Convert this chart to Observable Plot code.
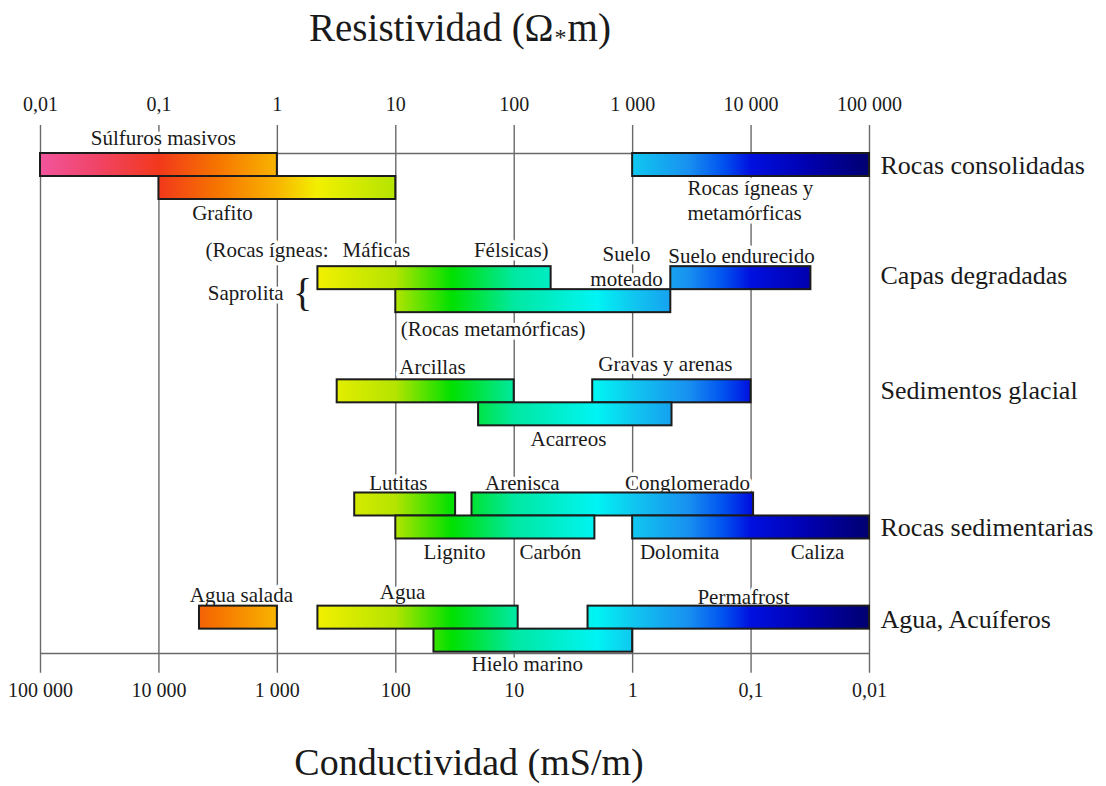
<!DOCTYPE html>
<html><head><meta charset="utf-8">
<script src="https://cdn.jsdelivr.net/npm/d3@7"></script>
<script src="https://cdn.jsdelivr.net/npm/@observablehq/plot@0.6"></script>
<style>
body{margin:0;background:#fff;width:1106px;height:786px;overflow:hidden;font-family:'Liberation Serif','Times New Roman',serif;color:#1a1a1a}
#title{height:66px;line-height:56px;width:920px;text-align:center;font-size:39px;white-space:nowrap}
#title .ast{font-size:24px;position:relative;top:4px;margin:0 1px}
#sub{height:50px;line-height:52px;width:938px;text-align:center;font-size:38px;white-space:nowrap}
#chart svg{display:block}
</style></head><body>
<div id="title">Resistividad (Ω<span class="ast">*</span>m)</div>
<div id="chart"></div>
<div id="sub">Conductividad (mS/m)</div>
<script>
// ---- axis ticks ----
const resistivityTicks = [0.01, 0.1, 1, 10, 100, 1000, 10000, 100000];
const resistivityLabels = ["0,01", "0,1", "1", "10", "100", "1 000", "10 000", "100 000"];
const conductivityLabels = ["100 000", "10 000", "1 000", "100", "10", "1", "0,1", "0,01"];

// ---- groups (right-hand labels) ----
const groupNames = ["Rocas consolidadas", "Capas degradadas", "Sedimentos glacial", "Rocas sedimentarias", "Agua, Acuíferos"];
const groupLabelLane = [0.52, 5.30, 10.30, 16.26, 20.26];

// ---- bars: resistivity ranges (Ω·m) ----
const barNames = ["Súlfuros masivos", "Grafito", "Rocas ígneas y metamórficas",
  "Saprolita (ígneas)", "Saprolita (metamórficas)", "Suelo endurecido",
  "Arcillas", "Gravas y arenas", "Acarreos",
  "Lutitas", "Arenisca–Conglomerado", "Lignito–Carbón", "Dolomita–Caliza",
  "Agua salada", "Agua", "Permafrost", "Hielo marino"];
const barGroup = [0, 0, 0, 1, 1, 1, 2, 2, 2, 3, 3, 3, 3, 4, 4, 4, 4];
const barSub   = [0, 1, 0, 0, 1, 0, 0, 0, 1, 0, 0, 1, 1, 0, 0, 0, 1];
const barLow   = [0.01, 0.1, 1000, 2.2, 10, 2100, 3.2, 460, 50, 4.5, 44, 10, 1000, 0.22, 2.2, 420, 21];
const barHigh  = [1, 10, 100000, 205, 2100, 32000, 100, 10000, 2150, 32, 10500, 480, 100000, 1, 108, 100000, 1000];

// ---- annotations (x in Ω·m, y in lane units) ----
const noteText = ["Súlfuros masivos", "Grafito", "Rocas ígneas y\nmetamórficas",
  "(Rocas ígneas:", "Máficas", "Félsicas)", "Suelo\nmoteado", "Suelo endurecido",
  "Saprolita", "(Rocas metamórficas)",
  "Arcillas", "Gravas y arenas", "Acarreos",
  "Lutitas", "Arenisca", "Conglomerado", "Lignito", "Carbón", "Dolomita", "Caliza",
  "Agua salada", "Agua", "Permafrost", "Hielo marino"];
const noteX = [0.109, 0.344, 2900, 0.247, 3.55, 195, 887, 2000, 1.13, 11,
  20.4, 1890, 287, 10.5, 117, 2905, 31.3, 202, 2490, 36400, 0.497, 11.4, 8630, 129];
const noteLane = [-0.70, 2.52, 1.98, 4.13, 4.13, 4.13, 4.85, 4.39, 6.04, 7.57,
  9.22, 9.09, 12.35, 14.26, 14.26, 14.26, 17.3, 17.3, 17.3, 17.3, 19.13, 19.0, 19.22, 22.17];
const noteAnchor = ["middle", "middle", "start", "start", "start", "end", "middle", "start", "end", "start",
  "middle", "middle", "middle", "middle", "middle", "middle", "middle", "middle", "middle", "middle",
  "middle", "middle", "middle", "middle"];

// ---- colour ramp along resistivity ----
const rampValues = [0.01, 0.03, 0.1, 0.3, 1, 2.2, 10, 30, 100, 500, 1000, 3000, 6000, 10000, 30000, 100000];
const rampColors = ["#f2559c", "#f04468", "#f2381c", "#f67200", "#f8b400", "#f2f000", "#b4e400", "#00e000",
  "#00e8a0", "#00f4f4", "#10c8f0", "#1890f0", "#0050f0", "#0010e0", "#0000b0", "#000070"];

// ---- layout ----
const W = 1106, H = 670;
const LANE0 = 87, LANE = 23, GROUP_STEP = 4.92;

const bars = barNames.map((name, i) => ({name, lo: barLow[i], hi: barHigh[i], lane: barGroup[i] * GROUP_STEP + barSub[i]}));
const notes = noteText.map((t, i) => ({t, x: noteX[i], y: noteLane[i], a: noteAnchor[i]}));
const groupLabels = groupNames.map((g, i) => ({g, y: groupLabelLane[i]}));
const ticks = resistivityTicks.map((v, i) => ({v, top: resistivityLabels[i], bottom: conductivityLabels[i]}));
const xMin = resistivityTicks[0], xMax = resistivityTicks[resistivityTicks.length - 1];
const textColor = "#1a1a1a";
const halo = {stroke: "white", strokeWidth: 7, paintOrder: "stroke", fill: textColor};

const anchors = ["start", "middle", "end"];
const plot = Plot.plot({
  width: W, height: H,
  style: {fontFamily: "'Liberation Serif','Times New Roman',serif", background: "white", color: textColor},
  x: {type: "log", domain: [xMin, xMax], range: [40, 869], axis: null},
  y: {domain: [-LANE0 / LANE, (H - LANE0) / LANE], range: [0, H], axis: null},
  marks: [
    Plot.ruleX(ticks, {x: "v", y1: -1.22, y2: 22.6, stroke: "#6a6a6a", strokeWidth: 1.4}),
    ...anchors.map(a => Plot.text(notes.filter(d => d.a === a), {
      x: "x", y: "y", text: "t", textAnchor: a, fontSize: 21, lineHeight: 1.2, ...halo})),
    Plot.text(["{"], {x: 1.63, y: 6.09, text: d => d, fontSize: 40, fill: textColor}),
    Plot.ruleY([0, 21.74], {x1: xMin, x2: xMax, stroke: "#6a6a6a", strokeWidth: 1.4}),
    Plot.rect(bars, {x1: "lo", x2: "hi", y1: "lane", y2: d => d.lane + 1,
      fill: "url(#rainbow)", stroke: "#1c1c1c", strokeWidth: 2}),
    Plot.text(ticks, {x: "v", y: -2.13, text: "top", fontSize: 20, fill: textColor}),
    Plot.text(ticks, {x: "v", y: 23.35, text: "bottom", fontSize: 20, fill: textColor}),
    Plot.text(groupLabels, {x: xMax, y: "y", text: "g", dx: 11, textAnchor: "start", fontSize: 26, fill: textColor})
  ]
});

// gradient mapped onto the x scale
const xs = plot.scale("x");
const gx0 = xs.apply(xMin), gx1 = xs.apply(xMax);
const grad = d3.select(plot).insert("defs", ":first-child")
  .append("linearGradient").attr("id", "rainbow").attr("gradientUnits", "userSpaceOnUse")
  .attr("x1", gx0).attr("x2", gx1).attr("y1", 0).attr("y2", 0);
rampValues.forEach((v, i) => grad.append("stop")
  .attr("offset", (xs.apply(v) - gx0) / (gx1 - gx0)).attr("stop-color", rampColors[i]));

document.getElementById("chart").appendChild(plot);
</script>
</body></html>
